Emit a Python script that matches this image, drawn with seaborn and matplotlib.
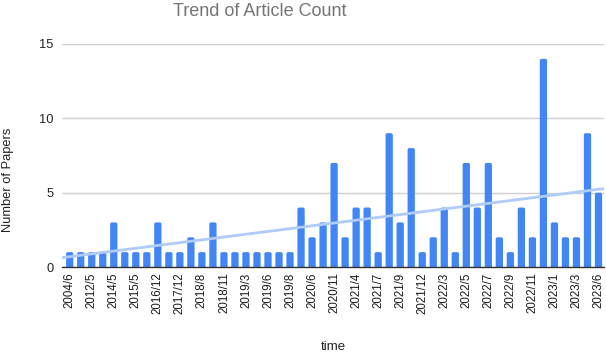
import numpy as np
import pandas as pd
import matplotlib
matplotlib.use("Agg")
import matplotlib.pyplot as plt
from matplotlib.patches import FancyBboxPatch
import seaborn as sns

# Data (monthly article counts, in chronological order)
counts = [1, 1, 1, 1, 3, 1, 1, 1, 3, 1, 1, 2, 1, 3, 1, 1, 1, 1, 1, 1, 1, 4, 2, 3, 7,
          2, 4, 4, 1, 9, 3, 8, 1, 2, 4, 1, 7, 4, 7, 2, 1, 4, 2, 14, 3, 2, 2, 9, 5]
# Tick labels shown on every other bar
tick_labels = ["2004/6", "2012/5", "2014/5", "2015/5", "2016/12", "2017/12", "2018/8",
               "2018/11", "2019/3", "2019/6", "2019/8", "2020/6", "2020/11", "2021/4",
               "2021/7", "2021/9", "2021/12", "2022/3", "2022/5", "2022/7", "2022/9",
               "2022/11", "2023/1", "2023/3", "2023/6"]
yticks = [0, 5, 10, 15]

sns.set_theme(style="white")
plt.rcParams["font.family"] = ["Liberation Sans", "DejaVu Sans"]

df = pd.DataFrame({"idx": np.arange(len(counts)), "count": counts})

fig = plt.figure(figsize=(6.06, 3.54), dpi=100)
ax = fig.add_axes([62 / 606, 1 - 267 / 354, 542 / 606, 223 / 354])

sns.barplot(data=df, x="idx", y="count", color="#4285F4", saturation=1,
            width=0.66, ax=ax, zorder=3)

ax.set_xlim(-0.7, len(counts) - 0.5)
ax.set_ylim(0, 15)

# give bars slightly rounded tops (bottom rounding clipped below the baseline)
px_x = (len(counts) - 0.5 + 0.7) / 542.0
px_y = 15 / 223.0
for p in list(ax.patches):
    x0, w, h = p.get_x(), p.get_width(), p.get_height()
    rb = FancyBboxPatch((x0, -0.4), w, h + 0.4,
                        boxstyle=f"round,pad=0,rounding_size={1.8 * px_x}",
                        mutation_aspect=px_y / px_x,
                        facecolor="#4285F4", edgecolor="none", zorder=3)
    p.remove()
    ax.add_patch(rb)

# linear trendline
coef = np.polyfit(df["idx"], df["count"], 1)
xs = np.array([-0.7, len(counts) - 0.5])
ax.plot(xs, np.polyval(coef, xs), color="#AECBFA", lw=2, zorder=4, solid_capstyle="butt")

ax.set_yticks(yticks)
ax.set_yticklabels([str(v) for v in yticks], fontsize=9.3, color="#222222")
ax.set_xticks(np.arange(0, len(counts), 2))
ax.set_xticklabels(tick_labels, rotation=90, fontsize=8.3, color="#1a1a1a")
ax.tick_params(axis="y", length=0, pad=6)
ax.tick_params(axis="x", length=0, pad=4)
ax.grid(axis="y", color="#d0d0d0", lw=1, zorder=0)
for s in ["top", "right", "left"]:
    ax.spines[s].set_visible(False)
ax.spines["bottom"].set_color("#333333")
ax.spines["bottom"].set_linewidth(1)
ax.spines["bottom"].set_zorder(5)
ax.set_xlabel("")
ax.set_ylabel("")

fig.text(260 / 606, 1 - 12 / 354, "Trend of Article Count", ha="center", va="center",
         fontsize=13, color="#757575")
fig.text(8 / 606, 1 - 180 / 354, "Number of Papers", rotation=90, ha="center",
         va="center", fontsize=9.3, color="#222222")
fig.text(333 / 606, 1 - 347 / 354, "time", ha="center", va="center", fontsize=9.5,
         color="#222222")

fig.savefig("out.png", dpi=100, facecolor="white")
